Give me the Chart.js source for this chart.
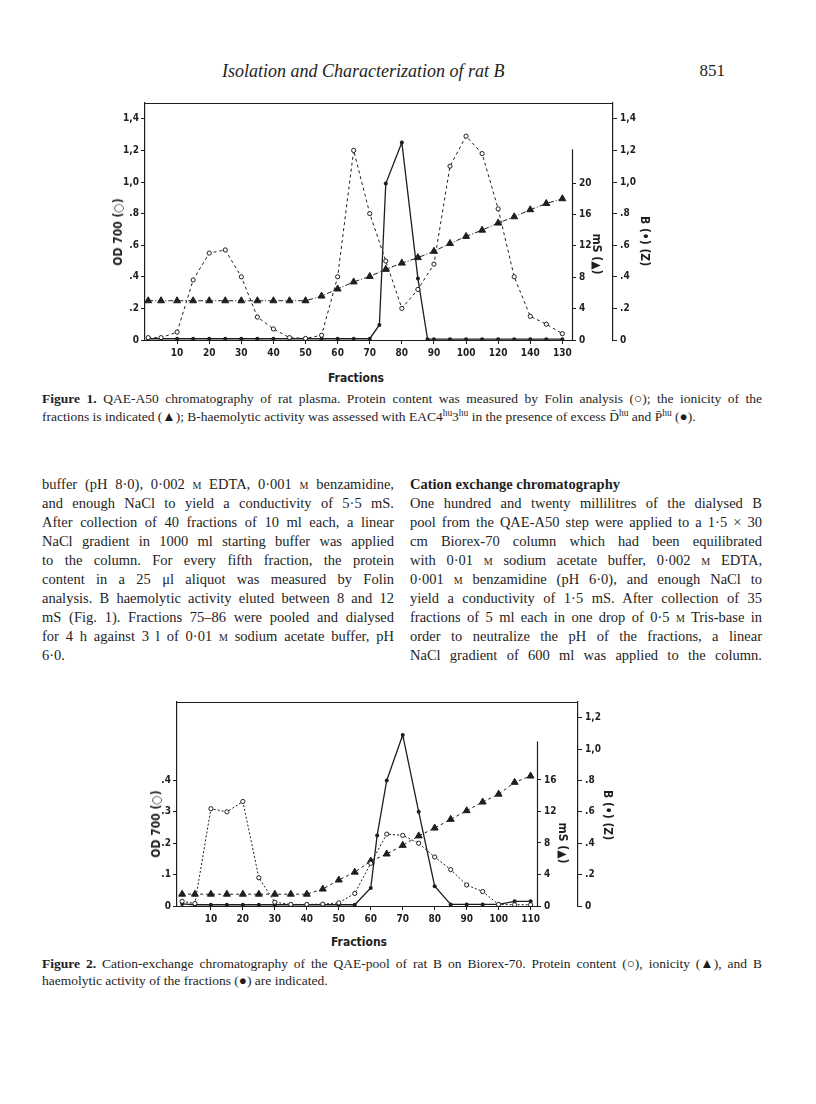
<!DOCTYPE html>
<html>
<head>
<meta charset="utf-8">
<script src="https://cdn.jsdelivr.net/npm/chart.js@4.4.1/dist/chart.umd.min.js"></script>
<style>
html,body{margin:0;padding:0;background:#fff;}
body{width:816px;height:1104px;position:relative;overflow:hidden;color:#1e1e1e;font-family:"Liberation Serif","Times New Roman",serif;}
.abs{position:absolute;white-space:nowrap;}
.body{font-size:14.5px;line-height:19px;}
.cap{font-size:13.5px;line-height:18px;}
.sc{font-variant:small-caps;}
.ax{position:absolute;white-space:nowrap;font-family:"DejaVu Sans Condensed","Liberation Sans Narrow","Liberation Sans",sans-serif;font-weight:bold;font-size:12px;transform:translate(-50%,-50%);}
.rl{transform:translate(-50%,-50%) rotate(-90deg);}
.rr{transform:translate(-50%,-50%) rotate(90deg);}
canvas{position:absolute;}
sup{font-size:70%;line-height:0;}
</style>
</head>
<body>

<div class="abs" style="left:222px;top:61px;font-size:18px;line-height:20px;font-style:italic">Isolation and Characterization of rat B</div>
<div class="abs" style="right:91px;top:61px;font-size:17px;line-height:20px">851</div>

<canvas id="fig1" width="570" height="270" style="left:100px;top:90px"></canvas>
<div class="ax rl" style="left:118px;top:232px">OD 700 (○)</div>
<div class="ax rr" style="left:597px;top:254px">mS (▲)</div>
<div class="ax rr" style="left:645px;top:241px">B (•) (Z)</div>
<div class="ax" style="left:356px;top:378px">Fractions</div>

<div class="abs cap just" data-w="720" style="left:42px;top:390px"><b>Figure 1.</b> QAE-A50 chromatography of rat plasma. Protein content was measured by Folin analysis (○); the ionicity of the</div>
<div class="abs cap" style="left:42px;top:408px">fractions is indicated (▲); B-haemolytic activity was assessed with EAC4<sup>hu</sup>3<sup>hu</sup> in the presence of excess D̄<sup>hu</sup> and P̄<sup>hu</sup> (●).</div>

<div class="abs body just" data-w="352" style="left:42px;top:475px">buffer (pH 8·0), 0·002 <span class="sc">m</span> EDTA, 0·001 <span class="sc">m</span> benzamidine,</div>
<div class="abs body just" data-w="352" style="left:42px;top:494px">and enough NaCl to yield a conductivity of 5·5 mS.</div>
<div class="abs body just" data-w="352" style="left:42px;top:513px">After collection of 40 fractions of 10 ml each, a linear</div>
<div class="abs body just" data-w="352" style="left:42px;top:532px">NaCl gradient in 1000 ml starting buffer was applied</div>
<div class="abs body just" data-w="352" style="left:42px;top:551px">to the column. For every fifth fraction, the protein</div>
<div class="abs body just" data-w="352" style="left:42px;top:570px">content in a 25 μl aliquot was measured by Folin</div>
<div class="abs body just" data-w="352" style="left:42px;top:589px">analysis. B haemolytic activity eluted between 8 and 12</div>
<div class="abs body just" data-w="352" style="left:42px;top:608px">mS (Fig. 1). Fractions 75–86 were pooled and dialysed</div>
<div class="abs body just" data-w="352" style="left:42px;top:627px">for 4 h against 3 l of 0·01 <span class="sc">m</span> sodium acetate buffer, pH</div>
<div class="abs body" style="left:42px;top:646px">6·0.</div>

<div class="abs body" style="left:410px;top:475px"><b>Cation exchange chromatography</b></div>
<div class="abs body just" data-w="352" style="left:410px;top:494px">One hundred and twenty millilitres of the dialysed B</div>
<div class="abs body just" data-w="352" style="left:410px;top:513px">pool from the QAE-A50 step were applied to a 1·5 × 30</div>
<div class="abs body just" data-w="352" style="left:410px;top:532px">cm Biorex-70 column which had been equilibrated</div>
<div class="abs body just" data-w="352" style="left:410px;top:551px">with 0·01 <span class="sc">m</span> sodium acetate buffer, 0·002 <span class="sc">m</span> EDTA,</div>
<div class="abs body just" data-w="352" style="left:410px;top:570px">0·001 <span class="sc">m</span> benzamidine (pH 6·0), and enough NaCl to</div>
<div class="abs body just" data-w="352" style="left:410px;top:589px">yield a conductivity of 1·5 mS. After collection of 35</div>
<div class="abs body just" data-w="352" style="left:410px;top:608px">fractions of 5 ml each in one drop of 0·5 <span class="sc">m</span> Tris-base in</div>
<div class="abs body just" data-w="352" style="left:410px;top:627px">order to neutralize the pH of the fractions, a linear</div>
<div class="abs body just" data-w="352" style="left:410px;top:646px">NaCl gradient of 600 ml was applied to the column.</div>

<canvas id="fig2" width="510" height="240" style="left:130px;top:690px"></canvas>
<div class="ax rl" style="left:156px;top:824px">OD 700 (○)</div>
<div class="ax rr" style="left:563px;top:843px">mS (▲)</div>
<div class="ax rr" style="left:608px;top:815px">B (•) (Z)</div>
<div class="ax" style="left:359px;top:942px">Fractions</div>

<div class="abs cap just" data-w="720" style="left:42px;top:955px"><b>Figure 2.</b> Cation-exchange chromatography of the QAE-pool of rat B on Biorex-70. Protein content (○), ionicity (▲), and B</div>
<div class="abs cap" style="left:42px;top:972px">haemolytic activity of the fractions (●) are indicated.</div>

<script>
// ---- Figure 1 data (QAE-A50) ----
const fig1ProteinFr = [1,5,10,15,20,25,30,35,40,45,50,55,60,65,70,75,80,85,90,95,100,105,110,115,120,125,130];
const fig1Protein   = [0.015,0.015,0.05,0.38,0.55,0.57,0.40,0.145,0.07,0.015,0.01,0.03,0.40,1.20,0.80,0.50,0.20,0.32,0.48,1.10,1.29,1.18,0.83,0.40,0.15,0.10,0.04];
const fig1IonFr     = [1,5,10,15,20,25,30,35,40,45,50,55,60,65,70,75,80,85,90,95,100,105,110,115,120,125,130];
const fig1Ion       = [5.0,5.0,5.0,5.0,5.0,5.0,5.0,5.0,5.0,5.0,5.0,5.6,6.5,7.4,8.1,9.0,9.8,10.5,11.3,12.3,13.2,14.0,14.9,15.7,16.6,17.4,18.0];
const fig1ActFr     = [1,5,10,15,20,25,30,35,40,45,50,55,60,65,70,73,75,80,85,88,90,95,100,105,110,115,120,125,130];
const fig1Act       = [0.008,0.008,0.008,0.008,0.008,0.008,0.008,0.008,0.008,0.008,0.008,0.008,0.008,0.008,0.008,0.095,0.99,1.25,0.39,0.005,0.005,0.005,0.005,0.005,0.005,0.005,0.005,0.005,0.005];
const fig1XTicks    = [10,20,30,40,50,60,70,80,90,100,110,120,130];
const fig1XLabels   = ["10","20","30","40","50","60","70","80","90","100","120","140","130"];
const fig1ODTicks   = [0,0.2,0.4,0.6,0.8,1.0,1.2,1.4];
const fig1ODLabels  = ["0",".2",".4",".6",".8","1,0","1,2","1,4"];
const fig1MSTicks   = [0,4,8,12,16,20];
const fig1MSLabels  = ["0","4","8","12","16","20"];
const fig1BTicks    = [0,0.2,0.4,0.6,0.8,1.0,1.2,1.4];
const fig1BLabels   = ["0",".2",".4",".6",".8","1,0","1,2","1,4"];

// ---- Figure 2 data (Biorex-70) ----
const fig2ProteinFr = [1,5,10,15,20,25,30,35,40,45,50,55,60,65,70,75,80,85,90,95,100,105,110];
const fig2Protein   = [0.015,0.008,0.31,0.30,0.333,0.09,0.012,0.005,0.005,0.006,0.01,0.04,0.136,0.229,0.225,0.20,0.156,0.116,0.067,0.046,0.005,0.004,0.004];
const fig2IonFr     = [1,5,10,15,20,25,30,35,40,45,50,55,60,65,70,75,80,85,90,95,100,105,110];
const fig2Ion       = [1.5,1.5,1.5,1.5,1.5,1.5,1.5,1.5,1.5,2.15,3.3,4.3,5.7,6.6,7.7,8.9,9.9,11.0,12.1,13.2,14.2,15.7,16.5];
const fig2ActFr     = [1,5,10,15,20,25,30,35,40,45,50,55,60,62,65,70,75,80,85,90,95,100,105,110];
const fig2Act       = [0.013,0.008,0.008,0.008,0.008,0.008,0.008,0.008,0.008,0.008,0.008,0.008,0.115,0.45,0.80,1.09,0.60,0.126,0.01,0.01,0.01,0.01,0.03,0.03];
const fig2XTicks    = [10,20,30,40,50,60,70,80,90,100,110];
const fig2XLabels   = ["10","20","30","40","50","60","70","80","90","100","110"];
const fig2ODTicks   = [0,0.1,0.2,0.3,0.4];
const fig2ODLabels  = ["0",".1",".2",".3",".4"];
const fig2MSTicks   = [0,4,8,12,16];
const fig2MSLabels  = ["0","4","8","12","16"];
const fig2BTicks    = [0,0.2,0.4,0.6,0.8,1.0,1.2];
const fig2BLabels   = ["0",".2",".4",".6",".8","1,0","1,2"];

// ---- justify text lines to their column width ----
document.querySelectorAll(".just").forEach(el=>{
  const target = parseFloat(el.dataset.w);
  const nat = el.getBoundingClientRect().width;
  const spaces = (el.textContent.match(/ /g)||[]).length;
  if (spaces) el.style.wordSpacing = ((target-nat)/spaces)+"px";
});

const ink = "#1e1e1e";
const tickFont = {family:"'DejaVu Sans Condensed','Liberation Sans Narrow','Liberation Sans',sans-serif", size:10, weight:"bold"};
const pts = (xs, ys) => xs.map((x,i)=>({x:x, y:ys[i]}));

// top frame line + short inner mS axis line
const framePlugin = {
  id:"frame",
  afterDraw(chart, args, opts){
    const {ctx, chartArea} = chart;
    const ms = chart.scales.yMS, b = chart.scales.yB;
    ctx.save();
    ctx.strokeStyle = ink; ctx.lineWidth = 1.2;
    ctx.beginPath();
    ctx.moveTo(chartArea.left, chartArea.top+0.5);
    ctx.lineTo(b.left, chartArea.top+0.5);
    ctx.moveTo(Math.round(ms.left)+0.5, ms.getPixelForValue(0));
    ctx.lineTo(Math.round(ms.left)+0.5, ms.getPixelForValue(opts.msTop));
    ctx.stroke();
    ctx.restore();
  }
};

function yAxis(o){
  return {
    type:"linear", position:o.pos, min:0, max:o.max, weight:o.weight||0,
    afterBuildTicks: s=>{ s.ticks = o.ticks.map(v=>({value:v})); },
    afterFit: s=>{ s.width = o.w; },
    ticks:{ autoSkip:false, color:ink, font:tickFont, padding:o.pad, callback:(v,i)=>o.labels[i] },
    grid:{ drawOnChartArea:false, drawTicks:true, tickLength:4, color:ink, lineWidth:1 },
    border:{ display:o.border, color:ink, width:1.2 }
  };
}

function makeFig(id, f){
  return new Chart(document.getElementById(id), {
    type:"line",
    data:{ datasets:[
      { data:pts(f.protFr, f.prot), yAxisID:"yOD", borderColor:ink, borderWidth:1, borderDash:f.protDash,
        pointStyle:"circle", pointRadius:2.1, pointBackgroundColor:"#fff", pointBorderColor:ink, pointBorderWidth:1, tension:0 },
      { data:pts(f.ionFr, f.ion), yAxisID:"yMS", borderColor:ink, borderWidth:1, borderDash:f.ionDash,
        pointStyle:"triangle", pointRadius:4, pointBackgroundColor:ink, pointBorderColor:ink, pointBorderWidth:1, tension:0 },
      { data:pts(f.actFr, f.act), yAxisID:"yB", borderColor:ink, borderWidth:1.3,
        pointStyle:"circle", pointRadius:2, pointBackgroundColor:ink, pointBorderColor:ink, pointBorderWidth:0, tension:0 }
    ]},
    options:{
      responsive:false, animation:false, devicePixelRatio:1,
      layout:{ padding:{ top:f.padTop, left:0, right:0, bottom:0 } },
      plugins:{ legend:{display:false}, tooltip:{enabled:false}, frame:{ msTop:f.msTop } },
      scales:{
        x:{ type:"linear", min:f.xMin, max:f.xMax,
            afterBuildTicks: s=>{ s.ticks = f.xTicks.map(v=>({value:v})); },
            afterFit: s=>{ s.height = f.xH; },
            ticks:{ autoSkip:false, maxRotation:0, color:ink, font:tickFont, padding:3, callback:(v,i)=>f.xLabels[i] },
            grid:{ drawOnChartArea:false, tickLength:4, color:ink },
            border:{ display:true, color:ink, width:1 } },
        yOD: yAxis({pos:"left", max:f.odMax, ticks:f.odTicks, labels:f.odLabels, w:f.leftW, pad:2, border:true}),
        yMS: yAxis({pos:"right", max:f.msMax, ticks:f.msTicks, labels:f.msLabels, w:f.msW, pad:3, border:false, weight:0}),
        yB:  yAxis({pos:"right", max:f.bMax, ticks:f.bTicks, labels:f.bLabels, w:f.bW, pad:3, border:true, weight:1})
      }
    },
    plugins:[framePlugin]
  });
}

makeFig("fig1", {
  protFr:fig1ProteinFr, prot:fig1Protein, ionFr:fig1IonFr, ion:fig1Ion, actFr:fig1ActFr, act:fig1Act,
  protDash:[3,3], ionDash:[5,2,1,2],
  xMin:0, xMax:133, xTicks:fig1XTicks, xLabels:fig1XLabels, xH:20,
  odMax:1.5, odTicks:fig1ODTicks, odLabels:fig1ODLabels,
  msMax:30.2, msTicks:fig1MSTicks, msLabels:fig1MSLabels, msTop:24.3,
  bMax:1.5, bTicks:fig1BTicks, bLabels:fig1BLabels,
  leftW:45, msW:41, bW:57, padTop:13
});

makeFig("fig2", {
  protFr:fig2ProteinFr, prot:fig2Protein, ionFr:fig2IonFr, ion:fig2Ion, actFr:fig2ActFr, act:fig2Act,
  protDash:[2,2], ionDash:[3,3],
  xMin:-0.6, xMax:112, xTicks:fig2XTicks, xLabels:fig2XLabels, xH:24,
  odMax:0.65, odTicks:fig2ODTicks, odLabels:fig2ODLabels,
  msMax:25.9, msTicks:fig2MSTicks, msLabels:fig2MSLabels, msTop:20.9,
  bMax:1.3, bTicks:fig2BTicks, bLabels:fig2BLabels,
  leftW:47, msW:41, bW:62, padTop:12
});
</script>
</body>
</html>
